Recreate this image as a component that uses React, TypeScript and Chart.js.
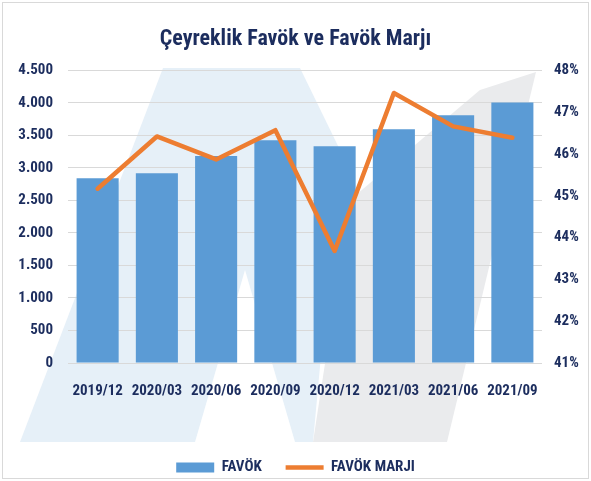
import React, { useEffect, useRef } from 'react';
import { Chart, registerables } from 'chart.js';

Chart.register(...registerables);

const categories = ['2019/12', '2020/03', '2020/06', '2020/09', '2020/12', '2021/03', '2021/06', '2021/09'];
const favok = [2840, 2920, 3185, 3425, 3335, 3595, 3810, 4005];
const favokMarji = [45.17, 46.42, 45.87, 46.57, 43.68, 47.46, 46.66, 46.39];

const titleText = 'Çeyreklik Favök ve Favök Marjı';
const barLabel = 'FAVÖK';
const lineLabel = 'FAVÖK MARJI';

const NAVY = '#1C2D5E';
const BLUE = '#5B9BD5';
const ORANGE = '#ED7D31';
const GRID = '#D9D9D9';
const FONT = '"Liberation Sans Narrow", "Roboto Condensed", Roboto, sans-serif';

function poly(ctx: CanvasRenderingContext2D, pts: number[][], color: string) {
  ctx.beginPath();
  pts.forEach((p, i) => (i === 0 ? ctx.moveTo(p[0], p[1]) : ctx.lineTo(p[0], p[1])));
  ctx.closePath();
  ctx.fillStyle = color;
  ctx.fill();
}

const backgroundPlugin = {
  id: 'bgWatermark',
  beforeDraw(chart: any) {
    const ctx: CanvasRenderingContext2D = chart.ctx;
    const w = chart.width;
    const h = chart.height;
    ctx.save();
    ctx.fillStyle = '#ffffff';
    ctx.fillRect(0, 0, w, h);
    poly(ctx, [[20, 442], [163, 68], [300, 68], [340, 150], [313, 442]], '#E6F0F8');
    poly(ctx, [[195, 442], [245, 270], [295, 442]], '#ffffff');
    poly(ctx, [[313, 442], [447, 442], [536, 72], [480, 90], [350, 200]], '#EAEBED');
    ctx.strokeStyle = GRID;
    ctx.lineWidth = 1;
    ctx.strokeRect(2.5, 2.5, w - 5, h - 5);
    ctx.restore();
  },
};

function fmtThousands(v: number) {
  return String(v).replace(/\B(?=(\d{3})+(?!\d))/g, '.');
}

export default function App() {
  const ref = useRef<HTMLCanvasElement | null>(null);

  useEffect(() => {
    document.body.style.margin = '0';
    if (!ref.current) return;
    const chart = new Chart(ref.current, {
      type: 'bar',
      data: {
        labels: categories,
        datasets: [
          {
            type: 'bar',
            label: barLabel,
            data: favok,
            backgroundColor: BLUE,
            borderWidth: 0,
            yAxisID: 'y',
            order: 1,
            barPercentage: 0.71,
            categoryPercentage: 1,
            pointStyle: 'rect',
          } as any,
          {
            type: 'line',
            label: lineLabel,
            data: favokMarji,
            borderColor: ORANGE,
            backgroundColor: ORANGE,
            borderWidth: 4.5,
            pointRadius: 0,
            pointHoverRadius: 0,
            tension: 0,
            borderJoinStyle: 'round',
            borderCapStyle: 'round',
            yAxisID: 'y1',
            order: 0,
            pointStyle: 'line',
          } as any,
        ],
      },
      options: {
        responsive: true,
        maintainAspectRatio: false,
        animation: false,
        layout: { padding: { left: 0, right: 0, top: 0, bottom: -4 } },
        plugins: {
          title: {
            display: true,
            text: titleText,
            color: NAVY,
            font: { family: FONT, size: 22, weight: 'bold' },
            padding: { top: 26, bottom: 18 },
          },
          legend: {
            position: 'bottom',
            labels: {
              color: NAVY,
              font: { family: FONT, size: 15, weight: 'bold' },
              usePointStyle: true,
              pointStyleWidth: 38,
              boxHeight: 10,
              padding: 4,
              sort: (a: any, b: any) => a.datasetIndex - b.datasetIndex,
              generateLabels: (c: any) => {
                const items = Chart.defaults.plugins.legend.labels.generateLabels(c);
                return items.map((it: any) => ({
                  ...it,
                  text: it.datasetIndex === 0 ? it.text + '\u2003\u2002' : it.text,
                }));
              },
            },
          },
          tooltip: { enabled: false },
        },
        scales: {
          x: {
            grid: { display: false, drawTicks: false },
            border: { display: false },
            ticks: {
              color: NAVY,
              font: { family: FONT, size: 15, weight: 'bold' },
              padding: 19,
              maxRotation: 0,
              autoSkip: false,
            },
            afterFit: (s: any) => {
              s.height = 93;
            },
          },
          y: {
            position: 'left',
            min: 0,
            max: 4500,
            grid: { color: GRID, lineWidth: 1, drawTicks: false },
            border: { display: false },
            ticks: {
              stepSize: 500,
              color: NAVY,
              font: { family: FONT, size: 15, weight: 'bold' },
              padding: 15,
              callback: (v: any) => fmtThousands(Number(v)),
            },
            afterFit: (s: any) => {
              s.width = 68;
            },
          },
          y1: {
            position: 'right',
            min: 41,
            max: 48,
            grid: { display: false, drawTicks: false },
            border: { display: false },
            ticks: {
              stepSize: 1,
              color: NAVY,
              font: { family: FONT, size: 15, weight: 'bold' },
              padding: 12,
              callback: (v: any) => v + '%',
            },
            afterFit: (s: any) => {
              s.width = 49;
            },
          },
        },
      },
      plugins: [backgroundPlugin],
    });
    return () => chart.destroy();
  }, []);

  return (
    <div style={{ width: 591, height: 481, position: 'relative' }}>
      <canvas ref={ref} />
    </div>
  );
}
